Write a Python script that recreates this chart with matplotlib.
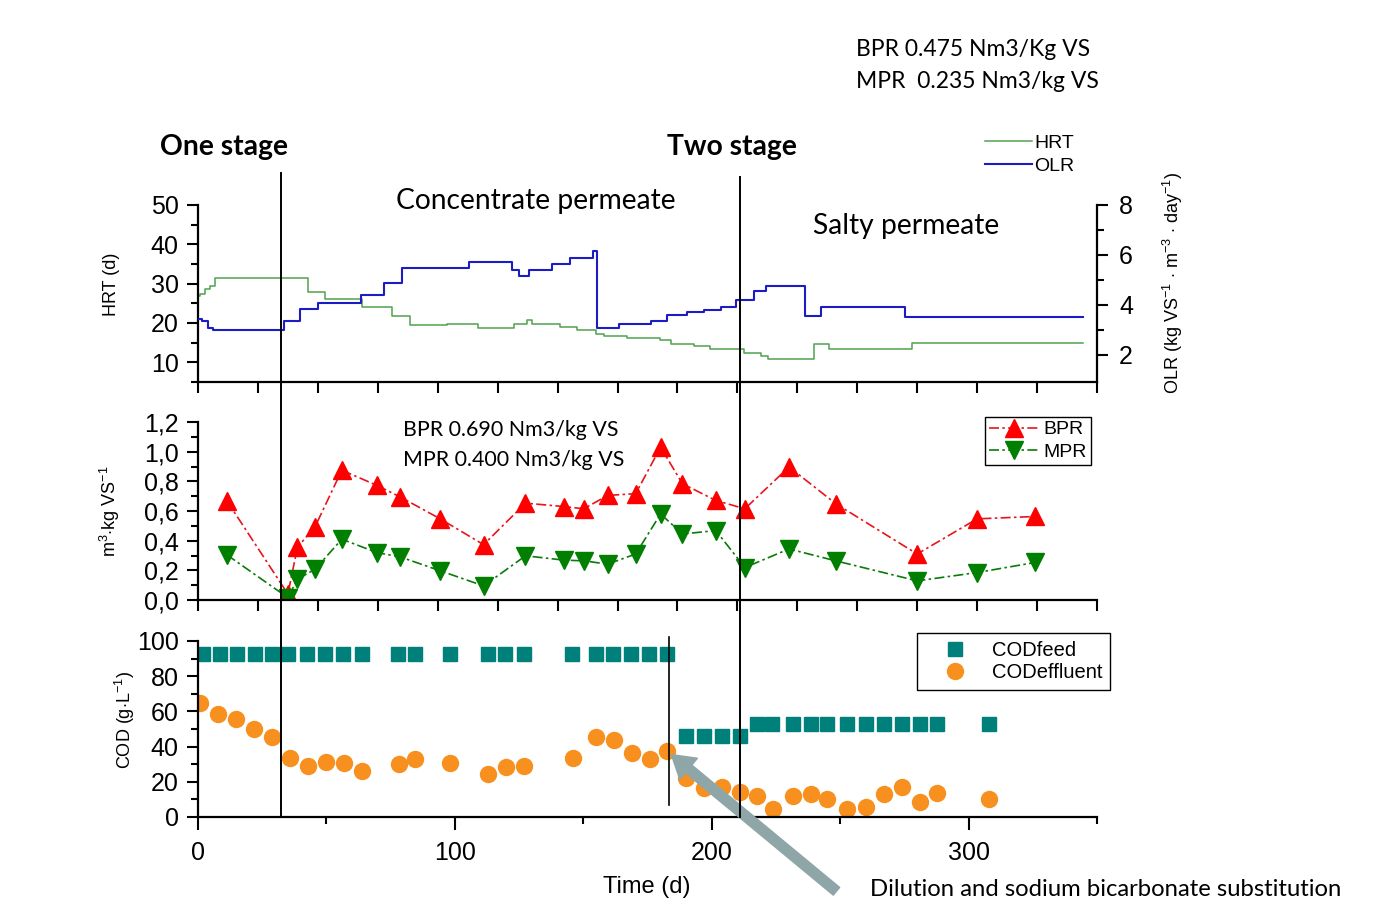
import matplotlib
matplotlib.use("Agg")
import matplotlib.pyplot as plt
import numpy as np
from matplotlib import transforms
from matplotlib.lines import Line2D
from matplotlib.ticker import MultipleLocator, FixedLocator, NullFormatter, FuncFormatter

plt.rcParams['font.family'] = ['Liberation Sans', 'DejaVu Sans']
plt.rcParams['mathtext.fontset'] = 'custom'
plt.rcParams['mathtext.rm'] = 'Liberation Sans'
plt.rcParams['mathtext.it'] = 'Liberation Sans:italic'

# --- HRT / OLR (step series, value holds from day until next day) ---
hrt_day = [0, 0.8, 2.7, 4.7, 6.6, 43, 49.5, 64, 75.5, 82.5, 97, 109, 123, 128, 130,
           141, 147.5, 155, 158, 167, 180, 184, 193, 199.5, 212.5, 219, 222, 240,
           245.5, 278, 344.5]
hrt_val = [26.9, 27.4, 28.7, 29.5, 31.5, 27.8, 26.2, 24.1, 21.8, 19.5, 19.8, 18.8, 19.8,
           20.8, 19.8, 19.0, 18.2, 17.3, 16.7, 16.2, 15.6, 14.7, 14.1, 13.5, 12.4, 11.5,
           10.9, 14.7, 13.4, 15.0, 15.0]
olr_day = [0, 1.4, 4.0, 6.0, 33.3, 39.8, 46.9, 63.4, 72.5, 79.4, 105.4, 122.3, 124.9,
           128.8, 137.9, 144.8, 153.9, 155.4, 163.9, 176.2, 182.7, 190.3, 197, 203.5,
           209.4, 216.5, 221, 236.3, 242.5, 275.2, 344.4]
olr_val = [3.42, 3.33, 3.08, 2.99, 3.35, 3.83, 4.05, 4.40, 4.86, 5.47, 5.71, 5.40, 5.14,
           5.40, 5.62, 5.87, 6.15, 3.08, 3.22, 3.35, 3.58, 3.69, 3.79, 3.92, 4.19, 4.57,
           4.74, 3.56, 3.89, 3.49, 3.49]

# --- biogas / methane production rates (m3/kg VS) ---
prod_day = [11.2, 35.0, 38.7, 45.6, 56.0, 69.6, 78.8, 94.3, 111.2, 127.5, 142.4, 150.2,
            159.5, 170.4, 180.1, 188.6, 201.6, 212.9, 230.1, 248.3, 280.0, 303.3, 325.9]
bpr = [0.67, 0.04, 0.355, 0.495, 0.875, 0.773, 0.694, 0.547, 0.373, 0.653, 0.63, 0.615,
       0.705, 0.717, 1.03, 0.784, 0.671, 0.615, 0.897, 0.649, 0.31, 0.547, 0.563]
mpr = [0.305, 0.016, 0.14, 0.208, 0.41, 0.32, 0.29, 0.197, 0.095, 0.298, 0.269, 0.264,
       0.242, 0.31, 0.58, 0.445, 0.468, 0.219, 0.344, 0.264, 0.129, 0.185, 0.253]

# --- COD (g/L) ---
feed_day = [2.1, 8.6, 15.1, 22.2, 28.7, 35.2, 42.3, 49.5, 56.6, 63.7, 78.0, 84.5, 98.2,
            112.8, 119.7, 126.9, 145.6, 154.8, 161.7, 168.4, 175.6, 182.7,
            189.9, 197.0, 204.1, 211.0,
            217.8, 223.6, 231.8, 238.8, 245.0, 252.8, 260.0, 266.9, 273.9, 281.2, 287.9, 308.1]
cod_feed = [92.5] * 22 + [46.0] * 4 + [53.0] * 12
eff_day = [0.8, 7.9, 14.8, 21.8, 28.7, 35.9, 42.8, 49.9, 56.7, 63.7, 78.1, 84.6, 98.0,
           112.8, 119.9, 126.9, 146.0, 154.8, 162.0, 169.0, 175.9, 182.6, 189.9, 197.0,
           204.1, 211.0, 217.8, 224.0, 231.8, 238.8, 245.0, 252.8, 260.0, 266.9, 273.9,
           281.2, 287.9, 308.1]
cod_eff = [64.6, 58.5, 55.5, 49.8, 45.6, 33.3, 29.2, 31.4, 30.5, 26.1, 29.9, 32.8, 30.5,
           24.4, 28.2, 29.2, 33.7, 45.6, 43.5, 36.1, 32.8, 37.5, 21.9, 16.2, 16.8, 14.4,
           11.9, 4.8, 11.9, 13.1, 10.5, 4.3, 5.5, 13.1, 17.2, 8.7, 13.8, 10.5]

stage_days = [32.3, 211.0]     # one stage -> concentrate, two stage
subst_day = 183.3              # dilution / bicarbonate substitution

TXT = 'Lato'
W, H = 1400, 901
fig = plt.figure(figsize=(W / 100, H / 100), dpi=100)

def px_axes(l, t, r, b):
    return fig.add_axes([l / W, 1 - b / H, (r - l) / W, (b - t) / H])

ax1 = px_axes(198, 205, 1097, 382)
ax2 = px_axes(198, 422, 1097, 600)
ax3 = px_axes(198, 641, 1097, 817)

for ax in (ax1, ax2, ax3):
    ax.set_xlim(0, 350)
    ax.spines['top'].set_visible(False)
    ax.spines['right'].set_visible(False)
    for s in ('left', 'bottom'):
        ax.spines[s].set_linewidth(1.6)
    ax.tick_params(which='both', direction='out', width=1.5, labelsize=18, pad=6)
    ax.tick_params(which='major', length=8)
    ax.tick_params(which='minor', length=5)

for ax in (ax1, ax2):
    ax.xaxis.set_major_locator(FixedLocator(np.linspace(0, 350, 16)))
    ax.xaxis.set_major_formatter(NullFormatter())

# top panel
ax1.step(hrt_day, hrt_val, where='post', color='#4fa24f', lw=1.1, label='HRT')
ax1.set_ylim(5, 50)
ax1.yaxis.set_major_locator(MultipleLocator(10))
ax1.yaxis.set_minor_locator(MultipleLocator(5))
ax1.set_ylabel('HRT (d)', fontsize=13)
ax1.yaxis.set_label_coords(-0.087, 0.55)

ax1r = ax1.twinx()
ax1r.step(olr_day, olr_val, where='post', color='#1c1cc4', lw=1.5, label='OLR')
ax1r.set_ylim(0.9, 8)
ax1r.yaxis.set_major_locator(FixedLocator([2, 4, 6, 8]))
ax1r.yaxis.set_minor_locator(FixedLocator([3, 5, 7]))
for s in ('top', 'left', 'bottom'):
    ax1r.spines[s].set_visible(False)
ax1r.spines['right'].set_linewidth(1.6)
ax1r.tick_params(which='both', direction='out', width=1.5, labelsize=18, pad=8)
ax1r.tick_params(which='major', length=8)
ax1r.tick_params(which='minor', length=5)
ax1r.set_ylabel(r'OLR (kg VS$^{-1}$ $\cdot$ m$^{-3}$ $\cdot$ day$^{-1}$)', fontsize=13)
ax1r.yaxis.set_label_coords(1.071, 0.56)

h1 = [Line2D([], [], color='#4fa24f', lw=1.1), Line2D([], [], color='#1c1cc4', lw=1.5)]
fig.legend(h1, ['HRT', 'OLR'], loc='upper left', bbox_to_anchor=(985 / W, 1 - 134 / H),
           frameon=False, fontsize=14, borderpad=0, borderaxespad=0, handlelength=2.4,
           handletextpad=0.15, labelspacing=0.3)

# middle panel
dash = (0, (6, 2, 1.5, 2))
ax2.plot(prod_day, bpr, color='#e8141c', ls=dash, lw=1.2, marker='^', ms=13,
         mfc='#ff0000', mec='#ff0000', label='BPR')
ax2.plot(prod_day, mpr, color='#0a7a0a', ls=dash, lw=1.2, marker='v', ms=13,
         mfc='#007f00', mec='#007f00', label='MPR')
ax2.set_ylim(0, 1.2)
ax2.yaxis.set_major_locator(MultipleLocator(0.2))
ax2.yaxis.set_minor_locator(MultipleLocator(0.1))
ax2.yaxis.set_major_formatter(FuncFormatter(lambda v, p: f'{v:.1f}'.replace('.', ',')))
ax2.set_ylabel(r'm$^{3}$$\cdot$kg VS$^{-1}$', fontsize=13)
ax2.yaxis.set_label_coords(-0.085, 0.5)
ax2.legend(loc='upper left', bbox_to_anchor=(985 / W, 1 - 417 / H),
           bbox_transform=fig.transFigure, fontsize=14, fancybox=False,
           edgecolor='black', borderpad=0.2, borderaxespad=0, handlelength=2.6,
           handletextpad=0.2, labelspacing=0.25, framealpha=1).get_frame().set_linewidth(1.0)

# bottom panel
ax3.plot(feed_day, cod_feed, ls='none', marker='s', ms=9.5, color='#00807a', label='CODfeed')
ax3.plot(eff_day, cod_eff, ls='none', marker='o', ms=11.5, color='#f7901e', label='CODeffluent')
ax3.set_ylim(0, 100)
ax3.yaxis.set_major_locator(MultipleLocator(20))
ax3.yaxis.set_minor_locator(MultipleLocator(10))
ax3.xaxis.set_major_locator(MultipleLocator(100))
ax3.xaxis.set_minor_locator(MultipleLocator(50))
ax3.tick_params(axis='x', which='major', length=9, pad=8)
ax3.set_ylabel(r'COD (g$\cdot$L$^{-1}$)', fontsize=13)
ax3.yaxis.set_label_coords(-0.068, 0.55)
ax3.set_xlabel('Time (d)', fontsize=17)
ax3.xaxis.set_label_coords(0.4995, -0.335)
ax3.legend(loc='upper left', bbox_to_anchor=(917 / W, 1 - 633 / H),
           bbox_transform=fig.transFigure, fontsize=14.5, fancybox=False,
           edgecolor='black', borderpad=0.4, borderaxespad=0, handlelength=3.0,
           handletextpad=0.3, labelspacing=0.15, framealpha=1).get_frame().set_linewidth(1.0)

# stage separators spanning the panels
tr = transforms.blended_transform_factory(ax3.transData, fig.transFigure)
for d, top in zip(stage_days, (1 - 173 / H, 1 - 177 / H)):
    fig.add_artist(Line2D([d, d], [1 - 817 / H, top], transform=tr, color='black', lw=1.4))
ax3.axvline(subst_day, ymin=0.07, ymax=1.02, color='black', lw=1.2, clip_on=False)

ax3.annotate('', xy=(eff_day[21], cod_eff[21]), xytext=(122, -101),
             textcoords='offset points', annotation_clip=False,
             arrowprops=dict(arrowstyle='simple,head_width=1.1,head_length=0.9,tail_width=0.4',
                             mutation_scale=18, color='#8fa6a8', shrinkA=0, shrinkB=4))

# annotations
fig.text(224 / W, 1 - 147 / H, 'One stage', family=TXT, weight='bold', fontsize=20.3,
         ha='center', va='center')
fig.text(732 / W, 1 - 147 / H, 'Two stage', family=TXT, weight='bold', fontsize=20.3,
         ha='center', va='center')
fig.text(536 / W, 1 - 201 / H, 'Concentrate permeate', family=TXT, fontsize=20.3,
         ha='center', va='center')
fig.text(906 / W, 1 - 226 / H, 'Salty permeate', family=TXT, fontsize=20.3,
         ha='center', va='center')
fig.text(403 / W, 1 - 430 / H, 'BPR 0.690 Nm3/kg VS', family=TXT, fontsize=15.4,
         ha='left', va='center')
fig.text(403 / W, 1 - 460 / H, 'MPR 0.400 Nm3/kg VS', family=TXT, fontsize=15.4,
         ha='left', va='center')
fig.text(856 / W, 1 - 50 / H, 'BPR 0.475 Nm3/Kg VS', family=TXT, fontsize=16.5,
         ha='left', va='center')
fig.text(856 / W, 1 - 82 / H, 'MPR  0.235 Nm3/kg VS', family=TXT, fontsize=16.5,
         ha='left', va='center')
fig.text(870 / W, 0.001, 'Dilution and sodium bicarbonate substitution', family=TXT,
         fontsize=17.2, ha='left', va='bottom')

fig.savefig('out.png', dpi=100, facecolor='white')
